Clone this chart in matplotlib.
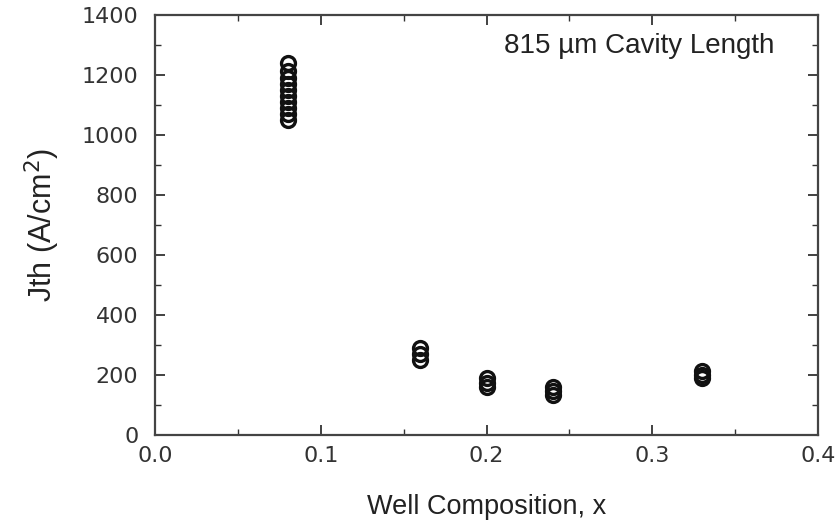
import matplotlib
matplotlib.use("Agg")
import matplotlib.pyplot as plt
from matplotlib.ticker import MultipleLocator

plt.rcParams['font.family'] = ['DejaVu Sans']
label_font = ['Liberation Sans', 'DejaVu Sans']

# well composition x and threshold current density Jth (A/cm^2)
comp_008 = [0.08] * 10
jth_008 = [1050, 1070, 1090, 1110, 1130, 1150, 1170, 1190, 1215, 1240]
comp_016 = [0.16] * 3
jth_016 = [250, 270, 290]
comp_020 = [0.20] * 3
jth_020 = [160, 175, 190]
comp_024 = [0.24] * 3
jth_024 = [135, 148, 160]
comp_033 = [0.33] * 3
jth_033 = [190, 200, 215]

x_all = comp_008 + comp_016 + comp_020 + comp_024 + comp_033
y_all = jth_008 + jth_016 + jth_020 + jth_024 + jth_033

fig = plt.figure(figsize=(8.36, 5.25), dpi=100)
ax = fig.add_axes([0.1854, 0.1714, 0.7931, 0.80])

ax.plot(x_all, y_all, 'o', markersize=10, markerfacecolor='none',
        markeredgecolor='#111111', markeredgewidth=2.4, linestyle='none')

ax.set_xlim(0.0, 0.4)
ax.set_ylim(0, 1400)
ax.xaxis.set_major_locator(MultipleLocator(0.1))
ax.xaxis.set_minor_locator(MultipleLocator(0.05))
ax.yaxis.set_major_locator(MultipleLocator(200))
ax.yaxis.set_minor_locator(MultipleLocator(100))
ax.xaxis.set_major_formatter(plt.FuncFormatter(lambda v, p: f"{v:.1f}"))

ax.tick_params(which='both', direction='in', top=True, right=True,
               labelsize=16, colors='#333333')
ax.tick_params(axis='y', pad=12)
ax.tick_params(axis='x', pad=8)
ax.tick_params(which='major', length=7, width=1.3)
ax.tick_params(which='minor', length=4, width=1.0)
for s in ax.spines.values():
    s.set_linewidth(1.6)
    s.set_color('#444444')

ax.set_xlabel('Well Composition, x', fontsize=19.5, labelpad=20,
              color='#222222', family=label_font)
ax.set_ylabel('Jth (A/cm$^2$)', fontsize=22, labelpad=14,
              color='#222222', family=label_font)

ax.text(0.731, 0.926, '815 \u00b5m Cavity Length', transform=ax.transAxes,
        ha='center', va='center', fontsize=20, color='#222222',
        family=label_font)

fig.savefig('out.png', dpi=100)
